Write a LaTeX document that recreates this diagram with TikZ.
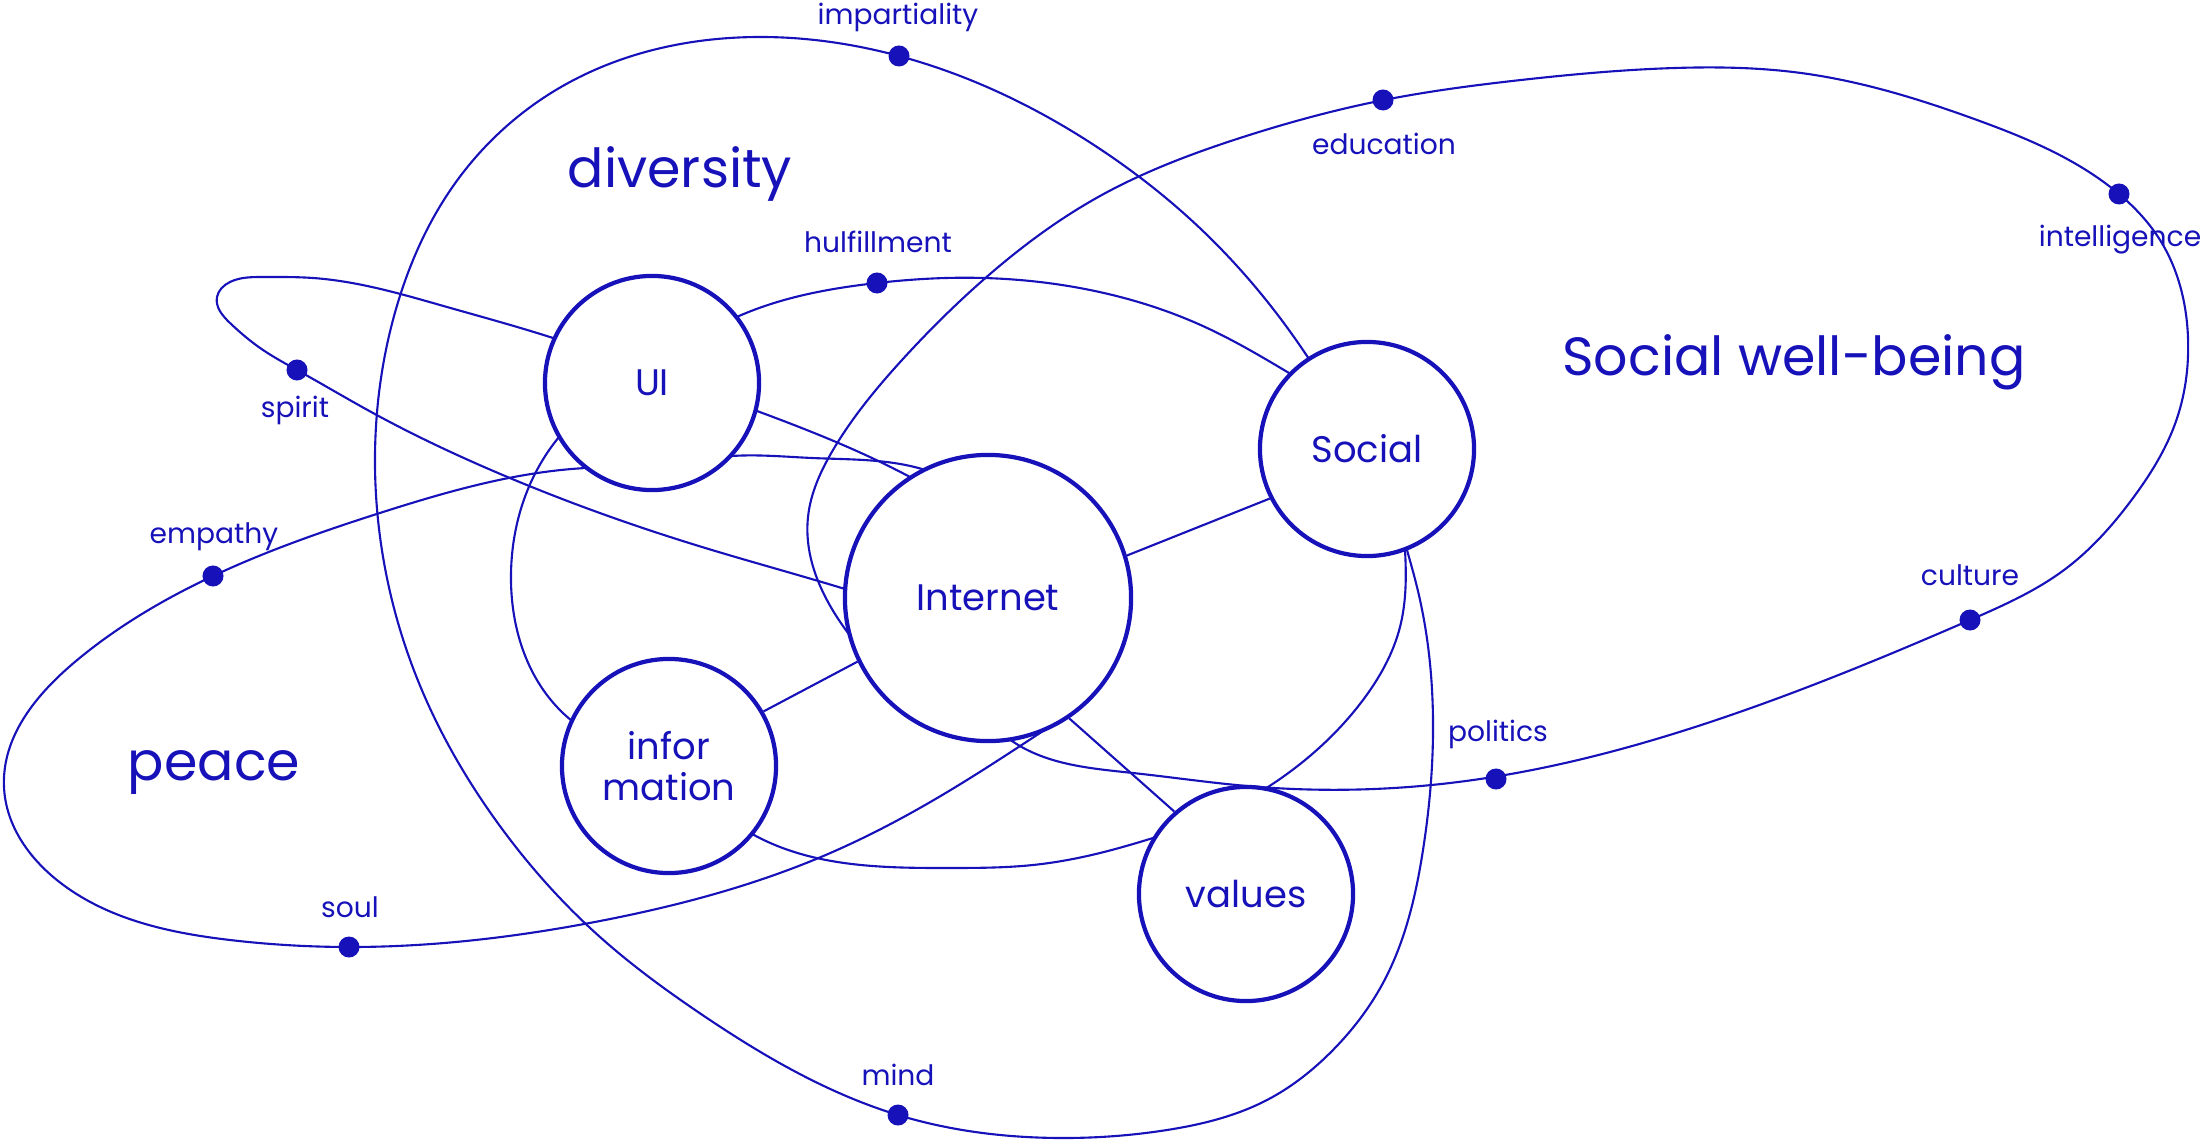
\documentclass[tikz,border=0pt]{standalone}
\usepackage{fontspec}
\setmainfont{Poppins}
\usetikzlibrary{backgrounds,hobby}
\definecolor{ink}{RGB}{22,17,184}
\newcommand\mytagfont{\fontsize{8}{9.5}\selectfont}
\newcommand\myhubfont{\fontsize{10.5}{11.5}\selectfont}
\newcommand\myareafont{\fontsize{15.3}{18}\selectfont}
\begin{document}
\begin{tikzpicture}[x=0.01cm,y=-0.01cm,
  hub/.style={circle, draw=ink, line width=1.2pt, fill=white, inner sep=0pt,
    text=ink, font=\myhubfont, align=center, minimum size=21.4mm},
  bighub/.style={hub, minimum size=28.6mm},
  dot/.style={circle, fill=ink, inner sep=0pt, minimum size=2.1mm},
  orbit/.style={draw=ink, line width=0.6pt, line join=round, use Hobby shortcut},
  link/.style={draw=ink, line width=0.6pt},
  tag/.style={text=ink, font=\mytagfont, anchor=base, inner sep=0pt},
  area/.style={text=ink, font=\myareafont, anchor=base, inner sep=0pt}]
\useasboundingbox (0,0) rectangle (2200,1140);

% circles
\node[hub] (UI) at (652,383) {UI};
\node[bighub] (Internet) at (988,598) {Internet};
\node[hub] (Social) at (1367,449) {Social};
\node[hub] (info) at (669,766) {infor\\mation};
\node[hub] (values) at (1246,894) {values};

\begin{scope}[on background layer]
% diversity loop (through Social)
\draw[orbit] (1340,410) .. (1307,356) .. (1205,233) .. (1100,149) .. (899,56) .. (761,37) .. (561,87) .. (456,182) .. (396,309) .. (375,455) .. (421,688) .. (497,822) .. (600,937) .. (701,1014) .. (898,1115) .. (1060,1138) .. (1167,1130) .. (1267,1100) .. (1333,1050) .. (1383,983) .. (1423,850) .. (1433,720) .. (1417,587) .. (1407,550) .. (1395,505);
% social well-being loop (through Internet)
\draw[orbit] (975,700) .. (1012,741) .. (1133,773) .. (1247,786) .. (1450,783) .. (1731,715) .. (1970,620) .. (2064,570) .. (2133,498) .. (2175,424) .. (2188,338) .. (2160,240) .. (2119,194) .. (1977,120) .. (1801,73) .. (1675,68) .. (1521,80) .. (1384,100) .. (1240,138) .. (1100,196) .. (982,281) .. (902,360) .. (833,450) .. (808,517) .. (848,633) .. (890,680);
% peace loop
\draw[orbit] (960,485) .. (922,469) .. (812,458) .. (732,456) .. (660,465) .. (586,468) .. (383,512) .. (213,576) .. (76,661) .. (4,787) .. (62,884) .. (230,940) .. (349,947) .. (600,921) .. (828,854) .. (967,780) .. (1040,733) .. (1080,707);
% spirit loop
\draw[orbit] (880,600) .. (845,589) .. (702,547) .. (491,470) .. (373,413) .. (297,370) .. (263,350) .. (230,323) .. (217,297) .. (230,282) .. (263,277) .. (313,278) .. (447,307) .. (553,338) .. (655,374) .. (757,411) .. (910,477) .. (950,500);
% hulfillment loop (UI - Social - values - information)
\draw[orbit] (650,375) .. (739,316) .. (877,283) .. (946,278) .. (1090,290) .. (1205,327) .. (1289,373) .. (1380,450) .. (1405,550) .. (1400,627) .. (1363,700) .. (1268,787) .. (1210,818) .. (1153,838) .. (1100,853) .. (1033,865) .. (950,868) .. (754,835) .. (660,770) .. (572,721) .. (511,573) .. (528,489) .. (559,437) .. (650,375);
\end{scope}

% straight connectors
\draw[link] (Internet.17) -- (Social.207);
\draw[link] (info.30) -- (Internet.206);
\draw[link] (Internet.-56) -- (values.131);

% dots
\node[dot] (d-imp) at (899,56) {};
\node[dot] (d-edu) at (1383,100) {};
\node[dot] (d-int) at (2119,194) {};
\node[dot] (d-hul) at (877,283) {};
\node[dot] (d-spi) at (297,370) {};
\node[dot] (d-emp) at (213,576) {};
\node[dot] (d-cul) at (1970,620) {};
\node[dot] (d-pol) at (1496,779) {};
\node[dot] (d-sou) at (349,947) {};
\node[dot] (d-min) at (898,1115) {};

% dot labels
\node[tag] (t-imp) at (898,25) {impartiality};
\node[tag] (t-edu) at (1384,155) {education};
\node[tag] (t-int) at (2120,247) {intelligence};
\node[tag] (t-hul) at (878,253) {hulfillment};
\node[tag] (t-spi) at (295,418) {spirit};
\node[tag] (t-emp) at (214,544) {empathy};
\node[tag] (t-cul) at (1970,585) {culture};
\node[tag] (t-pol) at (1498,741) {politics};
\node[tag] (t-sou) at (350,917) {soul};
\node[tag] (t-min) at (898,1085) {mind};

% area labels
\node[area] (a-div) at (680,188) {diversity};
\node[area] (a-swb) at (1794,376) {Social well-being};
\node[area] (a-pea) at (214,780) {peace};
\end{tikzpicture}
\end{document}
